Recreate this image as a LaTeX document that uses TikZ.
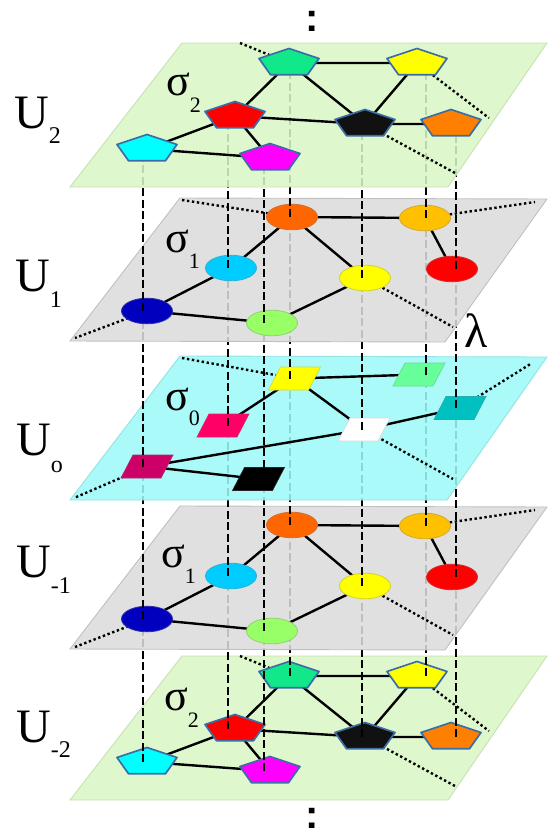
\documentclass[tikz,border=0pt]{standalone}
\usepackage{fontspec}
\setmainfont{Liberation Serif}
\newfontfamily\colonfont{Liberation Sans}
\usetikzlibrary{calc}

\definecolor{plgreen}{RGB}{217,246,197}
\definecolor{plgreenb}{RGB}{198,226,178}
\definecolor{plgray}{RGB}{219,219,219}
\definecolor{plgrayb}{RGB}{192,192,192}
\definecolor{plcyan}{RGB}{157,249,249}
\definecolor{plcyanb}{RGB}{148,226,226}
\definecolor{pentblue}{RGB}{60,110,165}
\definecolor{cSpring}{RGB}{16,232,138}
\definecolor{cYellow}{RGB}{255,255,0}
\definecolor{cRed}{RGB}{255,0,0}
\definecolor{cBlack}{RGB}{17,17,17}
\definecolor{cOrange}{RGB}{255,128,0}
\definecolor{cCyan}{RGB}{0,255,255}
\definecolor{cMagenta}{RGB}{255,0,255}
\definecolor{cOrangeA}{RGB}{255,102,0}
\definecolor{cAmber}{RGB}{255,192,0}
\definecolor{cSky}{RGB}{0,204,255}
\definecolor{cNavy}{RGB}{0,0,190}
\definecolor{cLime}{RGB}{153,255,102}
\definecolor{cMint}{RGB}{102,255,153}
\definecolor{cPink}{RGB}{255,0,102}
\definecolor{cTeal}{RGB}{0,192,192}
\definecolor{cCrimson}{RGB}{204,0,102}

\newcommand\PentAt[2]{\filldraw[pentline, fill=#2] ([shift={(0,-14.5)}]#1) -- ([shift={(-30,-4.5)}]#1) -- ([shift={(-18.5,11.7)}]#1) -- ([shift={(18.5,11.7)}]#1) -- ([shift={(30,-4.5)}]#1) -- cycle;}
\newcommand\EllAt[2]{\filldraw[ellline, fill=#2, draw=#2!65!gray] (#1) ellipse [x radius=25.5pt, y radius=12.8pt];}
\newcommand\ParAt[2]{\filldraw[parline, fill=#2, draw=#2!70!gray] ([shift={(-14,-11.5)}]#1) -- ([shift={(26,-11.5)}]#1) -- ([shift={(14,11.5)}]#1) -- ([shift={(-26,11.5)}]#1) -- cycle;}
\newcommand\Ulab[2]{{\fontsize{48}{48}\selectfont U}\raisebox{-#2pt}{\fontsize{24}{24}\selectfont #1}}
\newcommand\Slab[2]{{\fontsize{44}{44}\selectfont σ}\raisebox{-#2pt}{\fontsize{22}{22}\selectfont #1}}

\begin{document}
\begin{tikzpicture}[x=1pt,y=-1pt,
  link/.style={line width=2.4pt, black},
  dotl/.style={line width=2.4pt, black, dash pattern=on 2.4pt off 2.6pt},
  vline/.style={line width=2.4pt, black, dash pattern=on 8pt off 3.5pt},
  plane/.style={fill opacity=0.87, line width=0.9pt},
  pentline/.style={draw=pentblue, line width=1.7pt, line join=round},
  ellline/.style={line width=0.8pt},
  parline/.style={line width=0.7pt},
  lbl/.style={anchor=base west, inner sep=0pt}
]
\useasboundingbox (0,0) rectangle (548,838);

% columns
\coordinate (colA) at (143,0);
\coordinate (colB) at (228,0);
\coordinate (colC) at (264,0);
\coordinate (colD) at (290,0);
\coordinate (colE) at (362,0);
\coordinate (colF) at (426,0);
\coordinate (colG) at (456,0);

% U2 nodes
\coordinate (g2) at (289,63);
\coordinate (y2) at (417,63);
\coordinate (r2) at (235,116);
\coordinate (k2) at (365,124);
\coordinate (o2) at (451,124);
\coordinate (cy2) at (147,149);
\coordinate (m2) at (270,158);
% U1 nodes
\coordinate (or1) at (292,217);
\coordinate (am1) at (425,218);
\coordinate (sk1) at (231,268);
\coordinate (ye1) at (365,278);
\coordinate (re1) at (452,269);
\coordinate (nv1) at (147,311);
\coordinate (li1) at (272,323);
% U0 nodes
\coordinate (ye0) at (294.5,378.5);
\coordinate (mi0) at (419,374.5);
\coordinate (pk0) at (223,425.5);
\coordinate (wh0) at (364,429.5);
\coordinate (te0) at (460,408);
\coordinate (cr0) at (147,466.5);
\coordinate (bk0) at (258.5,479);
% U-1 nodes
\coordinate (orm) at (292,525);
\coordinate (amm) at (425,526);
\coordinate (skm) at (231,576);
\coordinate (yem) at (365,586);
\coordinate (rem) at (452,577);
\coordinate (nvm) at (147,619);
\coordinate (lim) at (272,631);
% U-2 nodes
\coordinate (gm) at (289,676);
\coordinate (ym) at (417,676);
\coordinate (rm) at (235,729);
\coordinate (km) at (365,737);
\coordinate (om) at (451,737);
\coordinate (cym) at (147,762);
\coordinate (mm) at (270,771);
% dotted ends
\coordinate (d2a) at (240,43);
\coordinate (d2b) at (489,118);
\coordinate (d2c) at (455,173);
\coordinate (d1a) at (182,200);
\coordinate (d1b) at (535,202);
\coordinate (d1c) at (453,327);
\coordinate (d1d) at (75,338);
\coordinate (d0a) at (182,358);
\coordinate (d0b) at (532,363);
\coordinate (d0c) at (453,479);
\coordinate (d0d) at (74,498);
\coordinate (dma) at (535,510);
\coordinate (dmb) at (453,635);
\coordinate (dmc) at (75,647);
\coordinate (dna) at (240,656);
\coordinate (dnb) at (489,731);
\coordinate (dnc) at (455,786);

% ===== U-2 =====
\filldraw[plane, fill=plgreen, draw=plgreenb] (182,656) -- (547,656) -- (448,800) -- (70,800) -- cycle;
\draw[link] (gm) -- (ym) (gm) -- (rm) (gm) -- (km) (ym) -- (km) (rm) -- (km) (km) -- (om) (rm) -- (cym) (rm) -- (mm) (cym) -- (mm);
\draw[dotl] (dna) -- (gm);
\draw[dotl] (ym) -- (dnb);
\draw[dotl] (km) -- (dnc);
\PentAt{gm}{cSpring}\PentAt{ym}{cYellow}\PentAt{rm}{cRed}\PentAt{km}{cBlack}
\PentAt{om}{cOrange}\PentAt{cym}{cCyan}\PentAt{mm}{cMagenta}
% verticals U-2 -> U-1
\draw[vline] (colA |- cym) -- (colA |- nvm);
\draw[vline] (colB |- rm) -- (colB |- skm);
\draw[vline] (colC |- mm) -- (colC |- lim);
\draw[vline] (colD |- gm) -- (colD |- orm);
\draw[vline] (colE |- km) -- (colE |- yem);
\draw[vline] (colF |- ym) -- (colF |- amm);
\draw[vline] (colG |- om) -- (colG |- rem);

% ===== U-1 =====
\filldraw[plane, fill=plgray, draw=plgrayb] (180,506) -- (547,507) -- (445,650) -- (70,649) -- cycle;
\draw[link] (orm) -- (amm) (orm) -- (skm) (orm) -- (yem) (amm) -- (rem) (skm) -- (nvm) (nvm) -- (lim) (lim) -- (yem);
\draw[dotl] (amm) -- (dma);
\draw[dotl] (yem) -- (dmb);
\draw[dotl] (nvm) -- (dmc);
\EllAt{orm}{cOrangeA}\EllAt{amm}{cAmber}\EllAt{skm}{cSky}\EllAt{yem}{cYellow}
\EllAt{rem}{cRed}\EllAt{nvm}{cNavy}\EllAt{lim}{cLime}
% verticals U-1 -> U0
\draw[vline] (colA |- nvm) -- (colA |- cr0);
\draw[vline] (colB |- skm) -- (colB |- pk0);
\draw[vline] (colC |- lim) -- (colC |- bk0);
\draw[vline] (colD |- orm) -- (colD |- ye0);
\draw[vline] (colE |- yem) -- (colE |- wh0);
\draw[vline] (colF |- amm) -- (colF |- mi0);
\draw[vline] (colG |- rem) -- (colG |- te0);

% ===== U0 =====
\filldraw[plane, fill=plcyan, draw=plcyanb] (180,356) -- (547,357) -- (447,500) -- (70,500) -- cycle;
\draw[link] (ye0) -- (mi0) (ye0) -- (pk0) (ye0) -- (wh0) (wh0) -- (te0) (wh0) -- (cr0) (cr0) -- (bk0);
\draw[dotl] (d0a) -- (ye0);
\draw[dotl] (te0) -- (d0b);
\draw[dotl] (wh0) -- (d0c);
\draw[dotl] (cr0) -- (d0d);
\ParAt{ye0}{cYellow}\ParAt{mi0}{cMint}\ParAt{pk0}{cPink}\ParAt{wh0}{white}
\ParAt{te0}{cTeal}\ParAt{cr0}{cCrimson}\ParAt{bk0}{black}
% verticals U0 -> U1
\draw[vline] (colA |- cr0) -- (colA |- nv1);
\draw[vline] (colB |- pk0) -- (colB |- sk1);
\draw[vline] (colC |- bk0) -- (colC |- li1);
\draw[vline] (colD |- ye0) -- (colD |- or1);
\draw[vline] (colE |- wh0) -- (colE |- ye1);
\draw[vline] (colF |- mi0) -- (colF |- am1);
\draw[vline] (colG |- te0) -- (colG |- re1);

% ===== U1 =====
\filldraw[plane, fill=plgray, draw=plgrayb] (180,198) -- (547,199) -- (445,342) -- (70,341) -- cycle;
\draw[link] (or1) -- (am1) (or1) -- (sk1) (or1) -- (ye1) (am1) -- (re1) (sk1) -- (nv1) (nv1) -- (li1) (li1) -- (ye1);
\draw[dotl] (d1a) -- (or1);
\draw[dotl] (am1) -- (d1b);
\draw[dotl] (ye1) -- (d1c);
\draw[dotl] (nv1) -- (d1d);
\EllAt{or1}{cOrangeA}\EllAt{am1}{cAmber}\EllAt{sk1}{cSky}\EllAt{ye1}{cYellow}
\EllAt{re1}{cRed}\EllAt{nv1}{cNavy}\EllAt{li1}{cLime}
% verticals U1 -> U2
\draw[vline] (colA |- nv1) -- (colA |- cy2);
\draw[vline] (colB |- sk1) -- (colB |- r2);
\draw[vline] (colC |- li1) -- (colC |- m2);
\draw[vline] (colD |- or1) -- (colD |- g2);
\draw[vline] (colE |- ye1) -- (colE |- k2);
\draw[vline] (colF |- am1) -- (colF |- y2);
\draw[vline] (colG |- re1) -- (colG |- o2);

% ===== U2 =====
\filldraw[plane, fill=plgreen, draw=plgreenb] (182,43) -- (547,43) -- (448,187) -- (70,187) -- cycle;
\draw[link] (g2) -- (y2) (g2) -- (r2) (g2) -- (k2) (y2) -- (k2) (r2) -- (k2) (k2) -- (o2) (r2) -- (cy2) (r2) -- (m2) (cy2) -- (m2);
\draw[dotl] (d2a) -- (g2);
\draw[dotl] (y2) -- (d2b);
\draw[dotl] (k2) -- (d2c);
\PentAt{g2}{cSpring}\PentAt{y2}{cYellow}\PentAt{r2}{cRed}\PentAt{k2}{cBlack}
\PentAt{o2}{cOrange}\PentAt{cy2}{cCyan}\PentAt{m2}{cMagenta}

% ===== labels =====
\node[lbl] (lU2) at (14,128) {\Ulab{2}{15}};
\node[lbl] (lU1) at (15,291) {\Ulab{1}{16}};
\node[lbl] (lU0) at (16,455) {\Ulab{o}{17}};
\node[lbl] (lUm1) at (16,577) {\Ulab{-1}{16}};
\node[lbl] (lUm2) at (16,742) {\Ulab{-2}{15}};
\node[lbl] (s2) at (166,95) {\Slab{2}{17}};
\node[lbl] (s1) at (165,252) {\Slab{1}{16}};
\node[lbl] (s0) at (165,410) {\Slab{0}{15}};
\node[lbl] (sm1) at (161,567) {\Slab{1}{16}};
\node[lbl] (sm2) at (164,710) {\Slab{2}{17}};
\node[lbl] (lam) at (464,347) {\fontsize{48}{48}\selectfont λ};
\node[anchor=base, inner sep=0pt, font={\colonfont\bfseries\fontsize{40}{40}\selectfont}] (dtop) at (312,31) {:};
\node[anchor=base, inner sep=0pt, font={\colonfont\bfseries\fontsize{40}{40}\selectfont}] (dbot) at (312,828) {:};
\end{tikzpicture}
\end{document}
